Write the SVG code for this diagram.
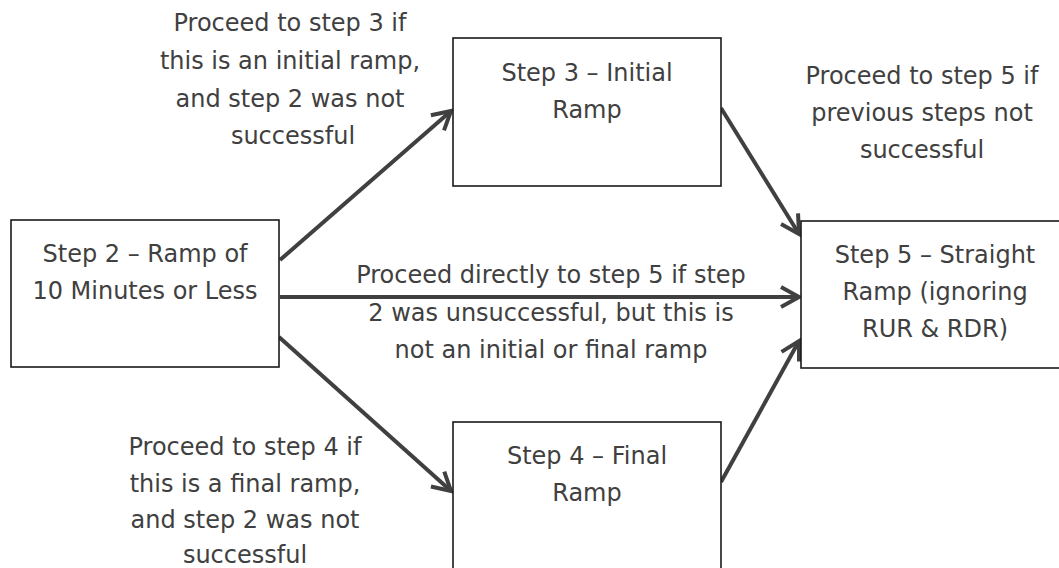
<svg xmlns="http://www.w3.org/2000/svg" width="1059" height="568" viewBox="0 0 1059 568">
<style>
text{font-family:"DejaVu Sans","Liberation Sans",sans-serif;font-size:24px;fill:#404040;text-anchor:middle}
.box{fill:#fff;stroke:#1a1a1a;stroke-width:1.6}
.conn{stroke:#404040;stroke-width:4;fill:none;marker-end:url(#arr)}
</style>
<defs>
<marker id="arr" markerUnits="userSpaceOnUse" markerWidth="30" markerHeight="30" viewBox="-24 -15 30 30" refX="0" refY="0" orient="auto">
<path d="M-18,-10 L0,0 L-18,10" fill="none" stroke="#404040" stroke-width="4" stroke-linejoin="miter"/>
</marker>
</defs>
<rect width="1059" height="568" fill="#fff"/>
<g id="connectors">
<line class="conn" x1="280" y1="260" x2="451" y2="111"/>
<line class="conn" x1="280" y1="297" x2="799" y2="297"/>
<line class="conn" x1="279" y1="337" x2="451" y2="491"/>
<line class="conn" x1="721" y1="108" x2="799" y2="234"/>
<line class="conn" x1="721" y1="482" x2="799" y2="341"/>
</g>
<g id="step2">
<rect class="box" x="11" y="220" width="268" height="147"/>
<text x="145" y="262">Step 2 – Ramp of</text>
<text x="145" y="299">10 Minutes or Less</text>
</g>
<g id="step3">
<rect class="box" x="453" y="38" width="268" height="148"/>
<text x="587" y="81">Step 3 – Initial</text>
<text x="587" y="118">Ramp</text>
</g>
<g id="step4">
<rect class="box" x="453" y="422" width="268" height="147"/>
<text x="587" y="464">Step 4 – Final</text>
<text x="587" y="501">Ramp</text>
</g>
<g id="step5">
<rect class="box" x="801" y="221" width="268" height="147"/>
<text x="935" y="263">Step 5 – Straight</text>
<text x="935" y="300">Ramp (ignoring</text>
<text x="935" y="337">RUR &amp; RDR)</text>
</g>
<g id="label-step3">
<text x="290" y="31">Proceed to step 3 if</text>
<text x="290" y="69">this is an initial ramp,</text>
<text x="290" y="107">and step 2 was not</text>
<text x="293" y="144">successful</text>
</g>
<g id="label-step5">
<text x="922" y="84">Proceed to step 5 if</text>
<text x="922" y="121">previous steps not</text>
<text x="922" y="158">successful</text>
</g>
<g id="label-direct">
<text x="551" y="283">Proceed directly to step 5 if step</text>
<text x="551" y="321">2 was unsuccessful, but this is</text>
<text x="551" y="358">not an initial or final ramp</text>
</g>
<g id="label-step4">
<text x="245" y="455">Proceed to step 4 if</text>
<text x="245" y="492">this is a final ramp,</text>
<text x="245" y="528">and step 2 was not</text>
<text x="245" y="563">successful</text>
</g>
</svg>
